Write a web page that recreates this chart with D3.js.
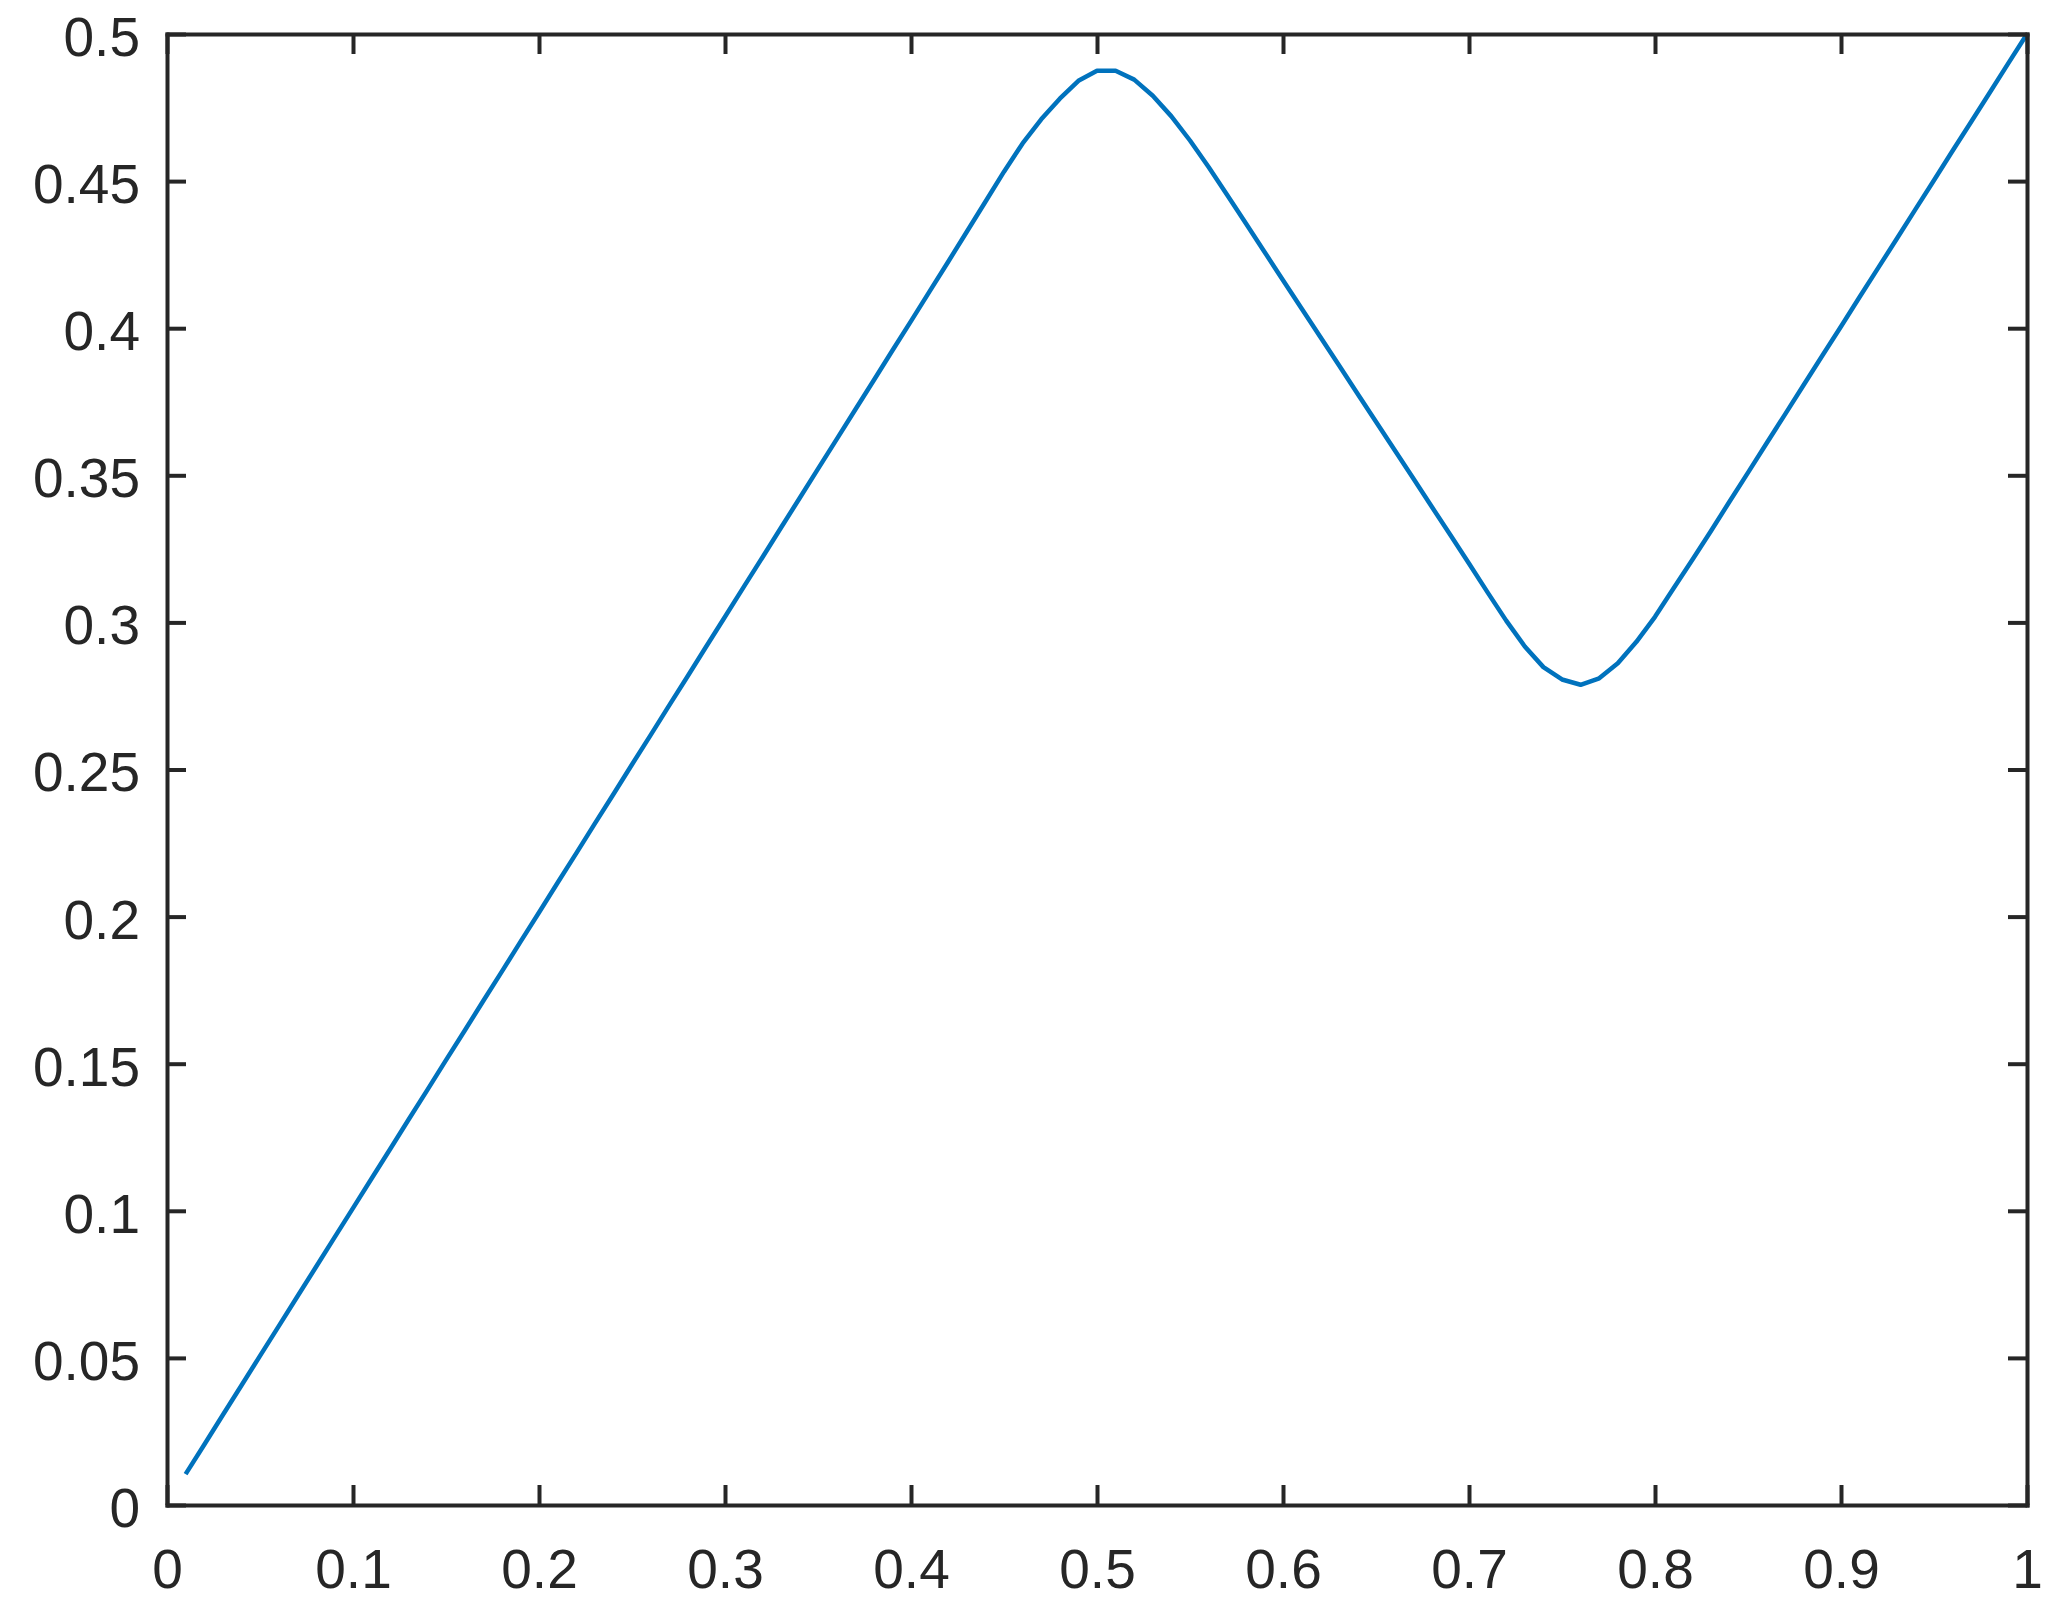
<!DOCTYPE html>
<html>
<head>
<meta charset="utf-8">
<script src="https://cdn.jsdelivr.net/npm/d3@7"></script>
<style>
  body { margin: 0; background: #fff; }
  svg { display: block; }
  .axis text { font-family: "Liberation Sans", Arial, sans-serif; font-size: 55px; fill: #262626; }
  .axis path, .axis line { stroke: #262626; stroke-width: 4; }
</style>
</head>
<body>
<svg id="chart" width="2057" height="1623"></svg>
<script>
let xValues = [
  0.01, 0.02, 0.03, 0.04, 0.05, 0.06, 0.07, 0.08, 0.09, 0.10,
  0.11, 0.12, 0.13, 0.14, 0.15, 0.16, 0.17, 0.18, 0.19, 0.20,
  0.21, 0.22, 0.23, 0.24, 0.25, 0.26, 0.27, 0.28, 0.29, 0.30,
  0.31, 0.32, 0.33, 0.34, 0.35, 0.36, 0.37, 0.38, 0.39, 0.40,
  0.41, 0.42, 0.43, 0.44, 0.45, 0.46, 0.47, 0.48, 0.49, 0.50,
  0.51, 0.52, 0.53, 0.54, 0.55, 0.56, 0.57, 0.58, 0.59, 0.60,
  0.61, 0.62, 0.63, 0.64, 0.65, 0.66, 0.67, 0.68, 0.69, 0.70,
  0.71, 0.72, 0.73, 0.74, 0.75, 0.76, 0.77, 0.78, 0.79, 0.80,
  0.81, 0.82, 0.83, 0.84, 0.85, 0.86, 0.87, 0.88, 0.89, 0.90,
  0.91, 0.92, 0.93, 0.94, 0.95, 0.96, 0.97, 0.98, 0.99, 1.00
]
let yValues = [
  0.0105, 0.0205, 0.0306, 0.0406, 0.0507, 0.0607, 0.0708, 0.0808, 0.0909, 0.1009,
  0.1110, 0.1210, 0.1311, 0.1411, 0.1512, 0.1612, 0.1713, 0.1813, 0.1914, 0.2014,
  0.2115, 0.2215, 0.2316, 0.2416, 0.2517, 0.2617, 0.2718, 0.2818, 0.2919, 0.3019,
  0.3120, 0.3220, 0.3321, 0.3421, 0.3522, 0.3622, 0.3723, 0.3823, 0.3924, 0.4024,
  0.4125, 0.4226, 0.4328, 0.4430, 0.4532, 0.4628, 0.4710, 0.4780, 0.4841, 0.4875,
  0.4875, 0.4845, 0.4790, 0.4720, 0.4638, 0.4548, 0.4453, 0.4357, 0.4260, 0.4163,
  0.4067, 0.3971, 0.3875, 0.3778, 0.3682, 0.3586, 0.3490, 0.3393, 0.3297, 0.3200,
  0.3102, 0.3006, 0.2918, 0.2848, 0.2806, 0.2788, 0.2810, 0.2861, 0.2934, 0.3019,
  0.3116, 0.3212, 0.3310, 0.3410, 0.3509, 0.3609, 0.3708, 0.3808, 0.3907, 0.4006,
  0.4106, 0.4205, 0.4304, 0.4404, 0.4503, 0.4603, 0.4702, 0.4801, 0.4901, 0.5000
]
let xTicks = [0, 0.1, 0.2, 0.3, 0.4, 0.5, 0.6, 0.7, 0.8, 0.9, 1]
let yTicks = [0, 0.05, 0.1, 0.15, 0.2, 0.25, 0.3, 0.35, 0.4, 0.45, 0.5]

let svg = d3.select("#chart")
let margin = {left: 167, right: 30, top: 34, bottom: 118}
let width = 2057 - margin.left - margin.right
let height = 1623 - margin.top - margin.bottom

let xScale = d3.scaleLinear().domain([0, 1]).range([0, width])
let yScale = d3.scaleLinear().domain([0, 0.5]).range([height, 0])

let g = svg.append("g")
           .attr("transform", `translate(${margin.left}, ${margin.top})`)

// the data line
let data = xValues.map((x, i) => [x, yValues[i]])
g.append("path")
 .datum(data)
 .attr("fill", "none")
 .attr("stroke", "#0072BD")
 .attr("stroke-width", 4.5)
 .attr("stroke-linejoin", "round")
 .attr("d", d3.line().x(d => xScale(d[0])).y(d => yScale(d[1])))

//axes, ticks point inward on all four sides
let fmt = d => d3.format("")(d)

g.append("g")
 .attr("class", "axis")
 .attr("transform", `translate(0, ${height})`)
 .call(d3.axisBottom(xScale).tickValues(xTicks).tickSizeInner(-20).tickSizeOuter(0).tickPadding(44).tickFormat(fmt))

g.append("g")
 .attr("class", "axis")
 .call(d3.axisLeft(yScale).tickValues(yTicks).tickSizeInner(-19).tickSizeOuter(0).tickPadding(27).tickFormat(fmt))
 .selectAll("text")
 .attr("dy", "0.39em")

g.append("g")
 .attr("class", "axis")
 .call(d3.axisTop(xScale).tickValues(xTicks).tickSizeInner(-20).tickSizeOuter(0).tickFormat(""))

g.append("g")
 .attr("class", "axis")
 .attr("transform", `translate(${width}, 0)`)
 .call(d3.axisRight(yScale).tickValues(yTicks).tickSizeInner(-19).tickSizeOuter(0).tickFormat(""))

g.selectAll(".axis path").attr("stroke-linecap", "square")
</script>
</body>
</html>
